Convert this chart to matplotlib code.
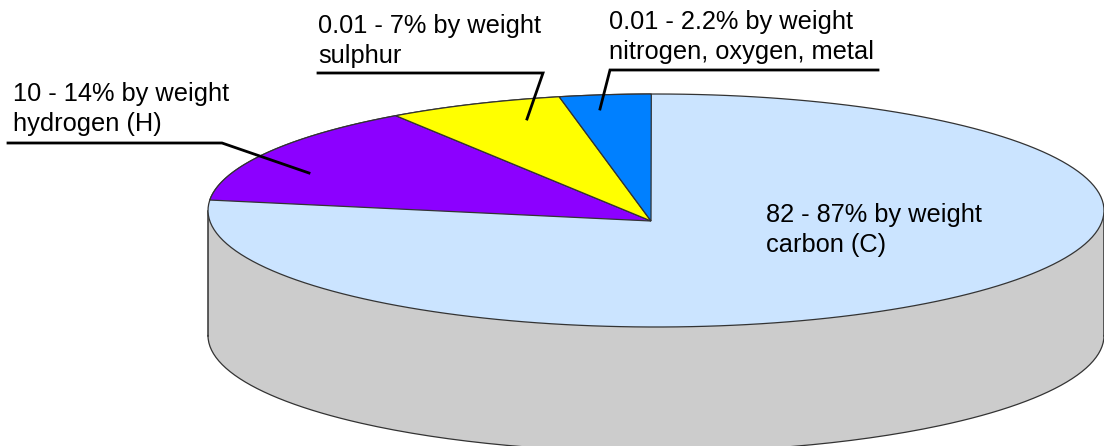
import numpy as np
import matplotlib
matplotlib.use('Agg')
import matplotlib.pyplot as plt

# share of the disc, clockwise from 12 o'clock
names = ['carbon', 'hydrogen', 'sulphur', 'other']
shares = [76.6, 13.7, 6.4, 3.3]
colors = ['#cbe4ff', '#8c00ff', '#ffff00', '#0080ff']
labels = ['82 - 87% by weight\ncarbon (C)',
          '10 - 14% by weight\nhydrogen (H)',
          '0.01 - 7% by weight\nsulphur',
          '0.01 - 2.2% by weight\nnitrogen, oxygen, metal']

# layout in pixels
cx, cy, rx, ry = 656, 210.5, 448, 116.5
apex = (651, 221)
depth = 125
start = -0.6
edge = '#333333'

plt.rcParams['font.family'] = ['Liberation Sans', 'DejaVu Sans']

fig = plt.figure(figsize=(11.04, 4.46), dpi=100)
ax = fig.add_axes([0, 0, 1, 1])
ax.set_xlim(0, 1104)
ax.set_ylim(446, 0)
ax.axis('off')


def arc(a0, a1, dy=0):
    t = np.radians(np.linspace(a0, a1, 200))
    return cx + rx * np.sin(t), cy + dy - ry * np.cos(t)


# side wall
x_top, y_top = arc(90, 270)
x_bot, y_bot = arc(90, 270, depth)
ax.fill(np.r_[x_bot, x_top[::-1]], np.r_[y_bot, y_top[::-1]], color='#cccccc', lw=0, zorder=1)
ax.plot(x_bot, y_bot, color=edge, lw=0.9, zorder=2)
ax.plot([cx - rx, cx - rx], [cy, cy + depth], color=edge, lw=1.1, zorder=2)
ax.plot([cx + rx, cx + rx], [cy, cy + depth], color=edge, lw=1.1, zorder=2)

# top face: carbon is the whole disc, the smaller slices go over it
x_all, y_all = arc(0, 360)
ax.fill(x_all, y_all, facecolor=colors[0], edgecolor=edge, lw=0.9, zorder=3)

angle = start + shares[0] * 3.6
for share, color in zip(shares[1:], colors[1:]):
    xs, ys = arc(angle, angle + share * 3.6)
    ax.fill(np.r_[apex[0], xs], np.r_[apex[1], ys], facecolor=color, edgecolor=edge, lw=0.9, zorder=4)
    angle += share * 3.6

# labels
label_pos = [(766, 230), (13, 109), (318, 41), (609, 37)]
for (lx, ly), txt in zip(label_pos, labels):
    ax.text(lx, ly, txt, fontsize=18.3, color='black', va='center', ha='left',
            linespacing=1.36, zorder=6)

# leader lines
leaders = [
    ([8, 222, 309], [143, 143, 173]),
    ([318, 543, 527], [73, 73, 119]),
    ([878, 610, 600], [70, 70, 109]),
]
for xs, ys in leaders:
    ax.plot(xs, ys, color='black', lw=2, solid_joinstyle='miter', zorder=5)

fig.savefig('out.png', dpi=100)
